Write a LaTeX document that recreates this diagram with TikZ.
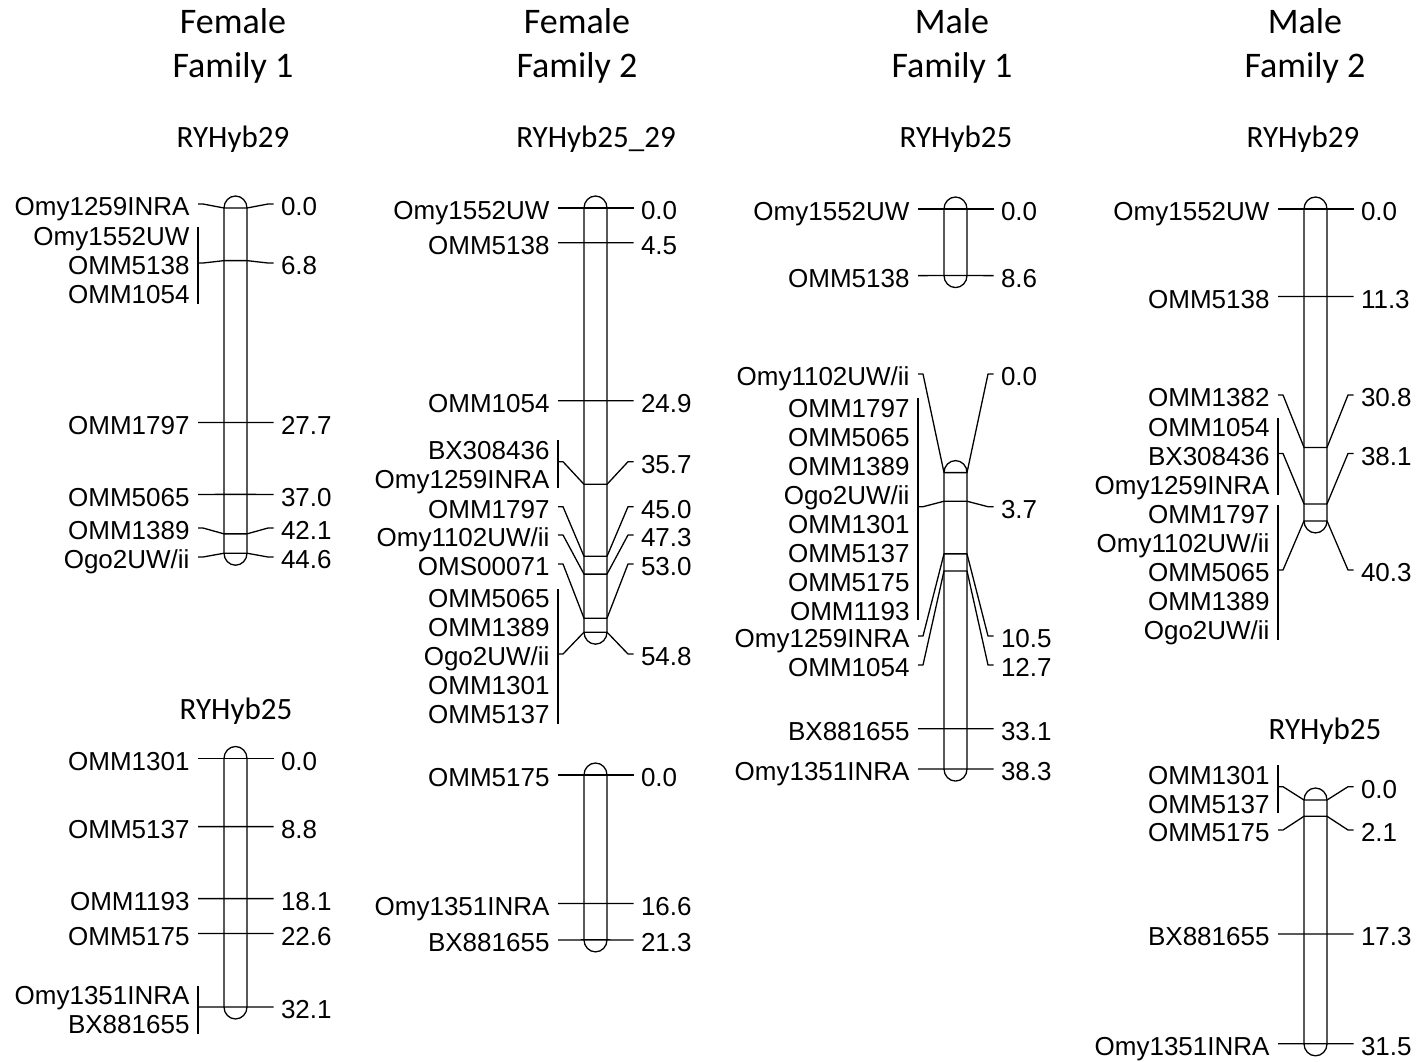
\documentclass[tikz,border=0pt]{standalone}
\usepackage{fontspec}
\setmainfont{Liberation Sans}
\newfontfamily\titlefont{Carlito}

\tikzset{
  chrline/.style={line width=1.3pt, line join=round},
  mname/.style={anchor=east, align=right, inner sep=0pt, outer xsep=8.5pt,
    text depth=0pt, font=\fontsize{26}{29}\selectfont},
  mpos/.style={anchor=west, inner sep=0pt, outer xsep=7.5pt,
    text height=23.6pt, text depth=0pt, font=\fontsize{26}{29}\selectfont},
  famtitle/.style={align=center, inner sep=0pt, text height=67.6pt,
    text depth=0pt, font=\titlefont\fontsize{36}{44.4}\selectfont},
  maptitle/.style={inner sep=0pt, text height=20pt, text depth=0pt,
    font=\titlefont\fontsize{31}{36}\selectfont},
}

% linkage group: x centre, top y, length in cM
\newcommand\chrom[3]{%
  \draw[chrline] (#1-11.5,#2) -- (#1-11.5,#2+7.74*#3)
    arc[start angle=180,end angle=360,x radius=11.5pt,y radius=12pt]
    -- (#1+11.5,#2)
    arc[start angle=0,end angle=180,x radius=11.5pt,y radius=12pt] -- cycle;
}
% marker: id, position, label line y, names, number of names
\newcommand\mk[5]{%
  \pgfmathsetmacro\my{\yz+7.74*#2}
  \pgfmathsetmacro\hh{23.6+(#5-1)*29}
  \coordinate (#1l) at (\cx-11.5,\my);
  \coordinate (#1r) at (\cx+11.5,\my);
  \node[mname,text height=\hh pt] (#1n) at (\cx-37.5,#3) {#4};
  \node[mpos] (#1p) at (\cx+38,#3) {#2};
  \draw[chrline] (#1n.east) -- ([xshift=5pt]#1n.east) -- (#1l) -- (#1r)
    -- ([xshift=-5.5pt]#1p.west) -- (#1p.west);
  \ifnum#5>1 \draw[chrline] (#1n.south east) -- ([yshift=-5pt]#1n.north east);\fi
}

\begin{document}
\begin{tikzpicture}[x=1pt,y=-1pt]
\useasboundingbox (0,0) rectangle (1418,1061);

% titles
\node[famtitle] (t1) at (233,43.9) {Female\\Family 1};
\node[famtitle] (t2) at (577,43.9) {Female\\Family 2};
\node[famtitle] (t3) at (952,43.9) {Male\\Family 1};
\node[famtitle] (t4) at (1305,43.9) {Male\\Family 2};

\node[maptitle] (f1aname) at (233,137.5) {RYHyb29};
\node[maptitle] (f2aname) at (596,137.5) {RYHyb25\_29};
\node[maptitle] (m1aname) at (956,137.5) {RYHyb25};
\node[maptitle] (m2aname) at (1303,137.5) {RYHyb29};
\node[maptitle] (f1bname) at (236,709) {RYHyb25};
\node[maptitle] (m2bname) at (1325,729) {RYHyb25};

% female family 1
\def\cx{235.5}\def\yz{208}
\chrom{\cx}{\yz}{44.6}
\mk{f1a1}{0.0}{204}{Omy1259INRA}{1}
\mk{f1a2}{6.8}{263}{Omy1552UW\\OMM5138\\OMM1054}{3}
\mk{f1a3}{27.7}{422.4}{OMM1797}{1}
\mk{f1a4}{37.0}{494.4}{OMM5065}{1}
\mk{f1a5}{42.1}{528}{OMM1389}{1}
\mk{f1a6}{44.6}{557}{Ogo2UW/ii}{1}

\def\yz{758.5}
\chrom{\cx}{\yz}{32.1}
\mk{f1b1}{0.0}{758.5}{OMM1301}{1}
\mk{f1b2}{8.8}{826.6}{OMM5137}{1}
\mk{f1b3}{18.1}{898.6}{OMM1193}{1}
\mk{f1b4}{22.6}{933.4}{OMM5175}{1}
\mk{f1b5}{32.1}{1007}{Omy1351INRA\\BX881655}{2}

% female family 2
\def\cx{595.5}\def\yz{208}
\chrom{\cx}{\yz}{54.8}
\mk{f2a1}{0.0}{208}{Omy1552UW}{1}
\mk{f2a2}{4.5}{242.8}{OMM5138}{1}
\mk{f2a3}{24.9}{400.7}{OMM1054}{1}
\mk{f2a4}{35.7}{461.7}{BX308436\\Omy1259INRA}{2}
\mk{f2a5}{45.0}{506.7}{OMM1797}{1}
\mk{f2a6}{47.3}{535}{Omy1102UW/ii}{1}
\mk{f2a7}{53.0}{564}{OMS00071}{1}
\mk{f2a8}{54.8}{654}{OMM5065\\OMM1389\\Ogo2UW/ii\\OMM1301\\OMM5137}{5}

\def\yz{775}
\chrom{\cx}{\yz}{21.3}
\mk{f2b1}{0.0}{775}{OMM5175}{1}
\mk{f2b2}{16.6}{903.5}{Omy1351INRA}{1}
\mk{f2b3}{21.3}{940}{BX881655}{1}

% male family 1
\def\cx{955.5}\def\yz{209}
\chrom{\cx}{\yz}{8.6}
\mk{m1a1}{0.0}{209}{Omy1552UW}{1}
\mk{m1a2}{8.6}{275.6}{OMM5138}{1}

\def\yz{472.6}
\chrom{\cx}{\yz}{38.3}
\mk{m1b1}{0.0}{374}{Omy1102UW/ii}{1}
\mk{m1b2}{3.7}{506.7}{OMM1797\\OMM5065\\OMM1389\\Ogo2UW/ii\\OMM1301\\OMM5137\\OMM5175\\OMM1193}{8}
\mk{m1b3}{10.5}{636}{Omy1259INRA}{1}
\mk{m1b4}{12.7}{665}{OMM1054}{1}
\mk{m1b5}{33.1}{728.8}{BX881655}{1}
\mk{m1b6}{38.3}{769}{Omy1351INRA}{1}

% male family 2
\def\cx{1315.5}\def\yz{209}
\chrom{\cx}{\yz}{40.3}
\mk{m2a1}{0.0}{209}{Omy1552UW}{1}
\mk{m2a2}{11.3}{296.5}{OMM5138}{1}
\mk{m2a3}{30.8}{395}{OMM1382}{1}
\mk{m2a4}{38.1}{453.5}{OMM1054\\BX308436\\Omy1259INRA}{3}
\mk{m2a5}{40.3}{570}{OMM1797\\Omy1102UW/ii\\OMM5065\\OMM1389\\Ogo2UW/ii}{5}

\def\yz{800}
\chrom{\cx}{\yz}{31.5}
\mk{m2b1}{0.0}{786.7}{OMM1301\\OMM5137}{2}
\mk{m2b2}{2.1}{830}{OMM5175}{1}
\mk{m2b3}{17.3}{933.9}{BX881655}{1}
\mk{m2b4}{31.5}{1043.8}{Omy1351INRA}{1}
\end{tikzpicture}
\end{document}
